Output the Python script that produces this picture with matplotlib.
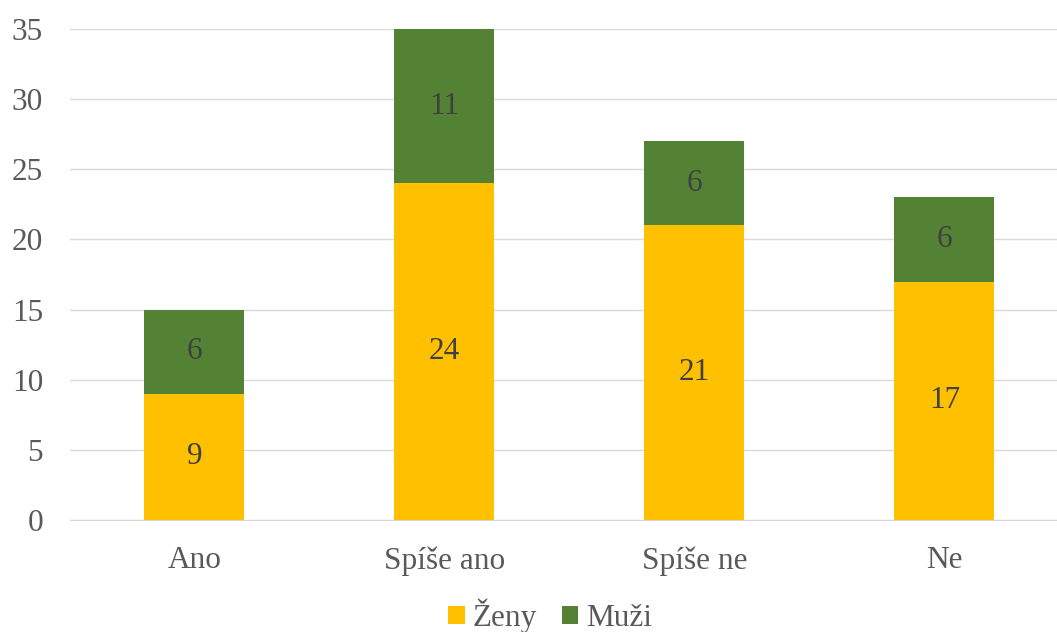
import matplotlib.pyplot as plt
import numpy as np

plt.rcParams["font.family"] = ["Liberation Serif", "DejaVu Serif"]

categories = ["Ano", "Spíše ano", "Spíše ne", "Ne"]
zeny = [9, 24, 21, 17]
muzi = [6, 11, 6, 6]

ZENY_COLOR = "#FFC000"
MUZI_COLOR = "#548235"
LABEL_COLOR = "#404040"
TICK_COLOR = "#595959"
FS = 22.5

fig = plt.figure(figsize=(10.57, 6.32), dpi=100)
# plot area runs slightly past the right edge, like the original
ax = fig.add_axes([69.5 / 1057, 1 - 520 / 632, 1000 / 1057, 491 / 632])

x = np.arange(len(categories))
width = 0.4
b1 = ax.bar(x, zeny, width, color=ZENY_COLOR, label="Ženy", zorder=3)
b2 = ax.bar(x, muzi, width, bottom=zeny, color=MUZI_COLOR, label="Muži", zorder=3)

for rect, v in zip(b1, zeny):
    ax.text(rect.get_x() + rect.get_width() / 2, v / 2, str(v),
            ha="center", va="center", fontsize=FS, color=LABEL_COLOR, zorder=4)
for rect, v, z in zip(b2, muzi, zeny):
    ax.text(rect.get_x() + rect.get_width() / 2, z + v / 2, str(v),
            ha="center", va="center", fontsize=FS, color=LABEL_COLOR, zorder=4)

ax.set_xlim(-0.5, len(categories) - 0.5)
ax.set_ylim(0, 35)
ax.set_yticks(range(0, 36, 5))
ax.set_xticks(x)
ax.set_xticklabels(categories)
ax.tick_params(axis="both", length=0, labelsize=FS, labelcolor=TICK_COLOR)
ax.tick_params(axis="x", pad=19)
ax.tick_params(axis="y", pad=19)

ax.grid(axis="y", color="#D9D9D9", linewidth=1, zorder=0)
for side in ["top", "right", "left"]:
    ax.spines[side].set_visible(False)
ax.spines["bottom"].set_color("#D9D9D9")

fig.legend(handles=[b1, b2], loc="center", bbox_to_anchor=(550 / 1057, 1 - 616 / 632),
           ncol=2, frameon=False, fontsize=FS, handlelength=0.52, handleheight=0.52,
           handletextpad=0.25, columnspacing=0.8, labelcolor=TICK_COLOR,
           borderpad=0, borderaxespad=0)

fig.savefig("out.png", dpi=100, facecolor="white")
